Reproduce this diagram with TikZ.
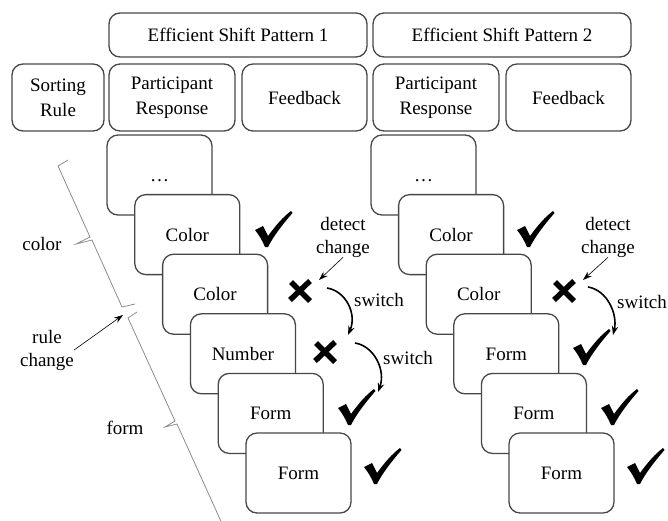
\documentclass[tikz,border=0pt]{standalone}
\usepackage{fontspec}
\setmainfont{Liberation Serif}
\usetikzlibrary{arrows.meta, positioning}

\tikzset{
  box/.style={draw=black!72, line width=1.3pt, rounded corners=11pt, fill=white,
    align=center, inner sep=0pt, font=\fontsize{19}{25}\selectfont},
  card/.style={box, minimum width=105pt, minimum height=80pt, text height=13pt, text depth=0pt},
  note/.style={align=center, inner sep=0pt, font=\fontsize{19}{23}\selectfont},
  pointer/.style={-{Stealth[length=9pt,width=6pt]}, line width=0.6pt},
  swarrow/.style={-{Stealth[length=9pt,width=6.5pt]}, line width=1.6pt},
  rulebrace/.style={draw=black!45, line width=0.8pt, line join=miter},
  tickmark/.pic={
    \fill (-18,1) -- (-10,-3) -- (-5,7) .. controls (3,-4) and (10,-12) .. (18,-18)
      -- (19.5,-16) .. controls (9,-4) and (0,8) .. (-5,18) -- (-8,18)
      .. controls (-11,11) and (-14,6) .. cycle;
  },
  crossmark/.pic={
    \draw[line width=5.5pt] (-9,-9) -- (10,10);
    \draw[line width=5.5pt] (10,-10) -- (-10,9);
  }
}

\begin{document}
\begin{tikzpicture}[x=1pt, y=-1pt]

          \clip (0,0) rectangle (668,520);

          % headers
          \node[box, minimum width=258pt, minimum height=44pt] (pat1) at (238,35) {Efficient Shift Pattern 1};
          \node[box, minimum width=258pt, minimum height=44pt] (pat2) at (502,35) {Efficient Shift Pattern 2};

          \node[box, minimum width=92pt, minimum height=67pt] (sort) at (58,97.5) {Sorting\\Rule};
          \node[box, minimum width=126pt, minimum height=67pt] (resp1) at (172,97.5) {Participant\\Response};
          \node[box, minimum width=125pt, minimum height=67pt] (feed1) at (304.5,97.5) {Feedback};
          \node[box, minimum width=126pt, minimum height=67pt] (resp2) at (436,97.5) {Participant\\Response};
          \node[box, minimum width=125pt, minimum height=67pt] (feed2) at (568.5,97.5) {Feedback};

          % pattern 1 cards
          \node[card] (c10) at (159.5,175.0) {\ldots};
          \node[card] (c11) at (187.3,234.6) {Color};
          \node[card] (c12) at (215.1,294.2) {Color};
          \node[card] (c13) at (242.9,353.8) {Number};
          \node[card] (c14) at (270.7,413.4) {Form};
          \node[card] (c15) at (298.5,473.0) {Form};

          % pattern 2 cards
          \node[card] (c20) at (423.5,175.0) {\ldots};
          \node[card] (c21) at (451.1,234.6) {Color};
          \node[card] (c22) at (478.7,294.2) {Color};
          \node[card] (c23) at (506.3,353.8) {Form};
          \node[card] (c24) at (533.9,413.4) {Form};
          \node[card] (c25) at (561.5,473.0) {Form};

          % feedback marks
          \pic at (273,229) {tickmark};
          \pic at (300,291) {crossmark};
          \pic at (325,352) {crossmark};
          \pic at (356,407) {tickmark};
          \pic at (382,466) {tickmark};

          \pic at (535,229) {tickmark};
          \pic at (564,291) {crossmark};
          \pic at (591,347) {tickmark};
          \pic at (619,407) {tickmark};
          \pic at (645,466) {tickmark};

          % detect change / switch
          \node[note] (det1) at (343,237) {detect\\change};
          \node[note] (det2) at (608,237) {detect\\change};
          \coordinate (det1end) at (319,280);
          \coordinate (det2end) at (583,280);
          \draw[pointer] (det1.south) -- (det1end);
          \draw[pointer] (det2.south) -- (det2end);

          \node[note] (sw1) at (379,300) {switch};
          \node[note] (sw2) at (408,358) {switch};
          \node[note] (sw3) at (642,302) {switch};
          \coordinate (sw1a) at (327,288); \coordinate (sw1b) at (348,335);
          \coordinate (sw2a) at (355,343); \coordinate (sw2b) at (378,392);
          \coordinate (sw3a) at (588,287); \coordinate (sw3b) at (613,335);
          \draw[swarrow] (sw1a) .. controls (346,291) and (357,314) .. (sw1b);
          \draw[swarrow] (sw2a) .. controls (374,346) and (386,370) .. (sw2b);
          \draw[swarrow] (sw3a) .. controls (607,290) and (618,314) .. (sw3b);

          % sorting rule brackets
          \draw[rulebrace] (68,160) -- (58,166) -- (90,237) -- (76,244) -- (92,240) -- (122,307) -- (135,304);
          \draw[rulebrace] (137,312) -- (128,318) -- (175,421) -- (165,427) -- (177,424) -- (224,528);

          \node[note] (colr) at (42,244) {color};
          \node[note] (form) at (125,428) {form};
          \node[note] (rule) at (47,350) {rule\\change};
          \coordinate (ruleend) at (123,315);
          \draw[pointer] (rule.east) -- (ruleend);

        \end{tikzpicture}
\end{document}
